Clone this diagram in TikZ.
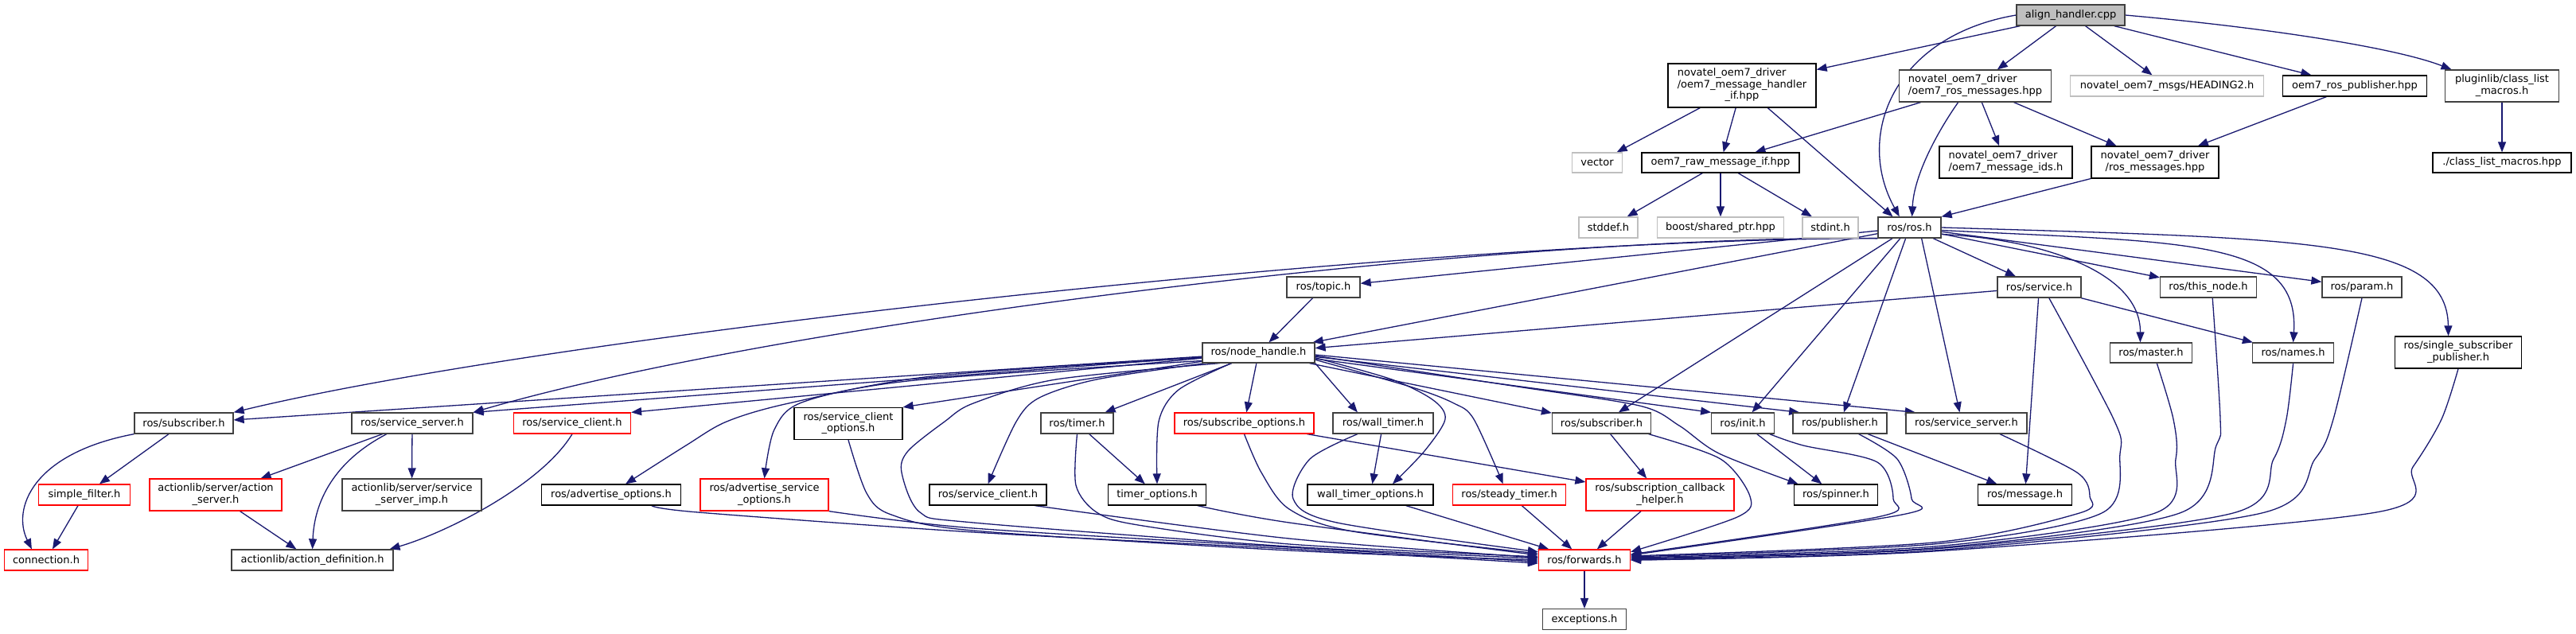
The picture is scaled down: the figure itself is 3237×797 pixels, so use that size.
\documentclass[tikz,border=0pt]{standalone}
\usepackage{fontspec}
\setmainfont{DejaVu Sans}
\usetikzlibrary{arrows.meta,backgrounds}
\definecolor{edgeblue}{HTML}{191970}
\definecolor{sysgray}{HTML}{BFBFBF}
\definecolor{dk}{HTML}{404040}
\definecolor{rd}{HTML}{FF0000}
\definecolor{alignfill}{HTML}{BFBFBF}
\newcommand{\nodefont}{\fontsize{13}{14.5}\selectfont}
\newcommand{\dtwo}[2]{\begin{tabular}{@{}l@{}}#1\\\multicolumn{1}{@{}c@{}}{#2}\end{tabular}}
\newcommand{\dthree}[3]{\begin{tabular}{@{}l@{}}#1\\#2\\\multicolumn{1}{@{}c@{}}{#3}\end{tabular}}
\tikzset{
  box/.style={draw=dk, line width=1.25pt, fill=white, inner sep=0pt, font=\nodefont},
  sysbox/.style={box, draw=sysgray},
  redbox/.style={box, draw=rd},
  wh/.style 2 args={minimum width=#1pt, minimum height=#2pt},
  edg/.style={draw=edgeblue, line width=1.3pt, -{Triangle[length=13pt,width=10pt]}},
}
\begin{document}
\begin{tikzpicture}[x=1pt,y=-1pt]
\useasboundingbox (0,0) rectangle (3237,797);
% ---------- nodes ----------
\node[box,wh={136}{26},fill=alignfill] (align) at (2602,19) {align\_handler.cpp};
\node[box,draw=black,wh={186}{55}] (hif) at (2189,107.5) {\dthree{novatel\_oem7\_driver}{/oem7\_message\_handler}{\_if.hpp}};
\node[box,wh={191}{40}] (rosmsgs) at (2482,108) {\dtwo{novatel\_oem7\_driver}{/oem7\_ros\_messages.hpp}};
\node[sysbox,wh={243}{26}] (heading) at (2723,108) {novatel\_oem7\_msgs/HEADING2.h};
\node[box,draw=black,wh={181}{26}] (rospub) at (2959,108) {oem7\_ros\_publisher.hpp};
\node[box,wh={143}{40}] (plugin) at (3144,108) {\dtwo{pluginlib/class\_list}{\_macros.h}};
\node[sysbox,wh={63}{25}] (vector) at (2007,204.5) {vector};
\node[box,draw=black,wh={198}{25}] (rawif) at (2162,204.5) {oem7\_raw\_message\_if.hpp};
\node[box,draw=black,wh={167}{40}] (msgids) at (2520.5,204) {\dtwo{novatel\_oem7\_driver}{/oem7\_message\_ids.h}};
\node[box,draw=black,wh={160}{40}] (rosmessages) at (2708,204) {\dtwo{novatel\_oem7\_driver}{/ros\_messages.hpp}};
\node[box,draw=black,wh={174}{25}] (clm) at (3144,204.5) {./class\_list\_macros.hpp};
\node[sysbox,wh={74}{26}] (stddef) at (2021,286) {stddef.h};
\node[sysbox,wh={159}{26}] (boost) at (2162,286) {boost/shared\_ptr.hpp};
\node[sysbox,wh={70}{26}] (stdint) at (2300,286) {stdint.h};
\node[box,wh={79}{26}] (rosh) at (2399.5,286) {ros/ros.h};
\node[box,wh={92}{26}] (topic) at (1663,361) {ros/topic.h};
\node[box,wh={105}{26}] (service) at (2562.5,361) {ros/service.h};
\node[box,wh={121}{26}] (thisnode) at (2775,361) {ros/this\_node.h};
\node[box,wh={100}{26}] (param) at (2968,361) {ros/param.h};
\node[box,wh={141}{25}] (nh) at (1581.5,443.5) {ros/node\_handle.h};
\node[box,wh={103}{25}] (master) at (2703,443.5) {ros/master.h};
\node[box,wh={102}{25}] (names) at (2881.6,443.5) {ros/names.h};
\node[box,draw=black,wh={158.5}{40}] (single) at (3089,443) {\dtwo{ros/single\_subscriber}{\_publisher.h}};
\node[box,wh={124}{26}] (sub1) at (231,532) {ros/subscriber.h};
\node[box,wh={152}{26}] (ss1) at (518,532) {ros/service\_server.h};
\node[redbox,wh={147}{26}] (scred) at (719,532) {ros/service\_client.h};
\node[box,draw=black,wh={136}{40}] (sco) at (1066,532.5) {\dtwo{ros/service\_client}{\_options.h}};
\node[box,wh={91}{26}] (timer) at (1353.5,532) {ros/timer.h};
\node[redbox,wh={175}{26}] (subopt) at (1563.5,532) {ros/subscribe\_options.h};
\node[box,wh={126}{26}] (walltimer) at (1738,532) {ros/wall\_timer.h};
\node[box,wh={124}{26}] (sub2) at (2012.5,532) {ros/subscriber.h};
\node[box,wh={78.5}{26}] (init) at (2190,532) {ros/init.h};
\node[box,wh={118}{26}] (pub) at (2312,532) {ros/publisher.h};
\node[box,wh={152}{26}] (ss2) at (2471,532) {ros/service\_server.h};
\node[redbox,wh={115}{26}] (simple) at (106,622) {simple\_filter.h};
\node[redbox,wh={166}{40}] (actsrv) at (271,622) {\dtwo{actionlib/server/action}{\_server.h}};
\node[box,wh={175}{40}] (ssimp) at (517.5,622) {\dtwo{actionlib/server/service}{\_server\_imp.h}};
\node[box,draw=black,wh={175}{26}] (advopt) at (768,622) {ros/advertise\_options.h};
\node[redbox,wh={161}{40}] (advsrv) at (960.5,622) {\dtwo{ros/advertise\_service}{\_options.h}};
\node[box,draw=black,wh={147}{26}] (sc2) at (1241.5,622) {ros/service\_client.h};
\node[box,draw=black,wh={123.5}{26}] (timeropt) at (1454,622) {timer\_options.h};
\node[box,draw=black,wh={158}{26}] (wto) at (1722,622) {wall\_timer\_options.h};
\node[redbox,wh={142}{26}] (steady) at (1896.6,622) {ros/steady\_timer.h};
\node[redbox,wh={186}{40}] (sch) at (2086,622) {\dtwo{ros/subscription\_callback}{\_helper.h}};
\node[box,draw=black,wh={105}{26}] (spinner) at (2307,622) {ros/spinner.h};
\node[box,draw=black,wh={118}{26}] (message) at (2544.5,622) {ros/message.h};
\node[redbox,wh={105.5}{26}] (conn) at (58,704) {connection.h};
\node[box,wh={203}{26}] (actdef) at (392.6,704) {actionlib/action\_definition.h};
\node[redbox,wh={115}{26}] (fwd) at (1991,704) {ros/forwards.h};
\node[box,wh={105}{26}] (exc) at (1991,778.5) {exceptions.h};
% ---------- edges ----------
\begin{scope}[on background layer]
% top
\draw[edg] (align) -- (hif);
\draw[edg] (align) -- (rosmsgs);
\draw[edg] (align) -- (heading);
\draw[edg] (align) -- (rospub);
\draw[edg] (align.east) .. controls (2850,35) and (3010,60) .. (plugin.162);
\draw[edg] (align.west) .. controls (2380,45) and (2330,170) .. (rosh.133);
\draw[edg] (hif) -- (vector);
\draw[edg] (hif) -- (rawif);
\draw[edg] (hif) -- (rosh.147);
\draw[edg] (rosmsgs) -- (rawif);
\draw[edg] (rosmsgs.224) .. controls (2435,165) and (2405,220) .. (rosh.77);
\draw[edg] (rosmsgs) -- (msgids);
\draw[edg] (rosmsgs) -- (rosmessages);
\draw[edg] (rospub) -- (rosmessages);
\draw[edg] (plugin) -- (clm);
\draw[edg] (rosmessages) -- (rosh.north east);
\draw[edg] (rawif) -- (stddef);
\draw[edg] (rawif) -- (boost);
\draw[edg] (rawif) -- (stdint);
% ros.h
\draw[edg] (rosh.south west) .. controls (1800,300) and (700,420) .. (sub1.north east);
\draw[edg] (rosh.south west) .. controls (1900,295) and (1000,400) .. (ss1.north east);
\draw[edg] (rosh) -- (topic);
\draw[edg] (rosh) -- (nh);
\draw[edg] (rosh) -- (service);
\draw[edg] (rosh) -- (thisnode);
\draw[edg] (rosh) -- (param);
\draw[edg] (rosh.-12) .. controls (2560,300) and (2690,340) .. (master.136);
\draw[edg] (rosh.-5) .. controls (2750,305) and (2890,300) .. (names.north);
\draw[edg] (rosh.0) .. controls (2900,300) and (3075,300) .. (single.121);
\draw[edg] (rosh) -- (sub2);
\draw[edg] (rosh) -- (init);
\draw[edg] (rosh) -- (pub);
\draw[edg] (rosh.-42) -- (ss2.122);
% service.h
\draw[edg] (service) -- (nh);
\draw[edg] (service) -- (names);
\draw[edg] (service) -- (message);
% right side into forwards
\draw[edg] plot[smooth] coordinates {(service.-48) (2656,527) (2664,570) (2641,645) (2430,684) (fwd.4)};
\draw[edg] plot[smooth] coordinates {(master.-61) (2731,527) (2734,577) (2708,645) (2430,687) (fwd.3)};
\draw[edg] plot[smooth] coordinates {(thisnode.-69) (2790,527) (2785,560) (2739,645) (2430,689) (fwd.2)};
\draw[edg] plot[smooth] coordinates {(names.south) (2873,527) (2857,577) (2806,645) (2430,690) (fwd.1)};
\draw[edg] plot[smooth] coordinates {(param.south) (2932,527) (2909,577) (2842,645) (2430,692) (fwd.east)};
\draw[edg] plot[smooth] coordinates {(single.south) (3068,527) (3032,587) (2986,644) (2430,693) (fwd.east)};
\draw[edg] plot[smooth] coordinates {(ss2.-18) (2610,594) (2626,624) (2613,645) (2430,682) (fwd.5)};
\draw[edg] plot[smooth] coordinates {(pub.-30) (2384,577) (2402,627) (2390,647) (fwd.6)};
\draw[edg] plot[smooth] coordinates {(init.-22) (2266,560) (2359,581) (2379,627) (2359,650) (fwd.7)};
\draw[edg] plot[smooth] coordinates {(sub2.-13) (2162,577) (2199,624) (2183,650) (fwd.10)};
% misc
\draw[edg] (pub) -- (message);
\draw[edg] (sub2) -- (sch);
\draw[edg] (init) -- (spinner);
\draw[edg] (subopt) -- (sch);
\draw[edg] (sch) -- (fwd);
\draw[edg] (steady) -- (fwd);
\draw[edg] (wto) -- (fwd);
\draw[edg] (walltimer) -- (wto);
\draw[edg] (timer) -- (timeropt);
\draw[edg] (topic) -- (nh);
\draw[edg] (fwd) -- (exc);
% node_handle fan
\draw[edg] (nh) -- (sub1);
\draw[edg] (nh) -- (ss1.north east);
\draw[edg] (nh) -- (scred.north east);
\draw[edg] (nh) -- (sco.north east);
\draw[edg] (nh) -- (timer);
\draw[edg] (nh) -- (subopt);
\draw[edg] (nh.south east) -- (walltimer.157);
\draw[edg] (nh) -- (sub2);
\draw[edg] (nh.-6) -- (init.north west);
\draw[edg] (nh.-4) -- (pub.165);
\draw[edg] (nh.-2) -- (ss2.168);
\draw[edg] plot[smooth] coordinates {(nh.185) (1171,473) (991,507) (913,530) (862,560) (advopt.37)};
\draw[edg] plot[smooth] coordinates {(nh.188) (1150,478) (1010,505) (973,540) (advsrv.north)};
\draw[edg] plot[smooth] coordinates {(nh.191) (1378,477) (1306,500) (1277,530) (sc2.north)};
\draw[edg] plot[smooth] coordinates {(nh.201) (1481,490) (1456,530) (timeropt.north)};
\draw[edg] plot[smooth] coordinates {(nh.195) (1327,477) (1223,507) (1187,530) (1141,567) (1133,594) (1156,644) (1223,657) (1620,687) (fwd.178)};
\draw[edg] plot[smooth] coordinates {(nh.-5) (1749,477) (1801,503) (1816,527) (1790,567) (wto.26)};
\draw[edg] plot[smooth] coordinates {(nh.-7) (1775,487) (1827,507) (1852,527) (steady.120)};
\draw[edg] plot[smooth] coordinates {(nh.-3) (1900,485) (2060,510) (2110,535) (2160,570) (spinner.164)};
% left side into forwards
\draw[edg] plot[smooth] coordinates {(advopt.-15) (877,644) (1223,669) (1620,690) (fwd.184)};
\draw[edg] plot[smooth] coordinates {(advsrv.south east) (1223,664) (1620,688) (fwd.182)};
\draw[edg] plot[smooth] coordinates {(sco.south) (1089,620) (1120,647) (1223,667) (1620,692) (fwd.180)};
\draw[edg] plot[smooth] coordinates {(sc2.-13) (1620,677) (fwd.177)};
\draw[edg] plot[smooth] coordinates {(timer.south) (1352,610) (1378,644) (1430,660) (1620,684) (fwd.176)};
\draw[edg] plot[smooth] coordinates {(timeropt.-15) (1620,657) (fwd.174)};
\draw[edg] plot[smooth] coordinates {(subopt.south) (1585,594) (1620,640) (1700,668) (fwd.172)};
\draw[edg] plot[smooth] coordinates {(walltimer.203) (1646,577) (1625,627) (1680,657) (fwd.170)};
% left cluster
\draw[edg] (sub1) -- (simple);
\draw[edg] (simple) -- (conn);
\draw[edg] (sub1.south west) .. controls (40,570) and (15,640) .. (conn.143);
\draw[edg] (ss1) -- (actsrv);
\draw[edg] (ss1.203) .. controls (420,580) and (395,630) .. (actdef.north);
\draw[edg] (ss1) -- (ssimp);
\draw[edg] (actsrv) -- (actdef);
\draw[edg] (scred.south) .. controls (680,610) and (560,670) .. (actdef.8);
\end{scope}
\end{tikzpicture}
\end{document}
